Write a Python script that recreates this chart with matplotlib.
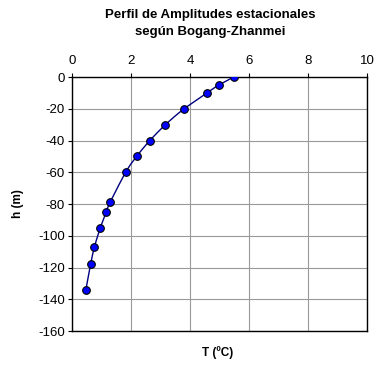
import numpy as np
import matplotlib.pyplot as plt

plt.rcParams['font.family'] = ['Liberation Sans', 'DejaVu Sans']
plt.rcParams['axes.unicode_minus'] = False

# amplitud estacional (ºC) frente a profundidad (m)
temp = [5.48, 4.98, 4.58, 3.80, 3.17, 2.64, 2.19, 1.82, 1.29, 1.16, 0.96, 0.76, 0.63, 0.47]
depth = [0, -5, -10, -20, -30, -40, -50, -60, -79, -85, -95, -107, -118, -134]
xticks = [0, 2, 4, 6, 8, 10]
yticks = [0, -20, -40, -60, -80, -100, -120, -140, -160]


def smooth(xs, ys, n=20):
    # Catmull-Rom through the points, like a smoothed spreadsheet line
    p = np.column_stack([xs, ys]).astype(float)
    p = np.vstack([2 * p[0] - p[1], p, 2 * p[-1] - p[-2]])
    out = []
    t = np.linspace(0, 1, n)[:, None]
    for i in range(1, len(p) - 2):
        p0, p1, p2, p3 = p[i - 1], p[i], p[i + 1], p[i + 2]
        seg = 0.5 * ((2 * p1) + (-p0 + p2) * t + (2 * p0 - 5 * p1 + 4 * p2 - p3) * t ** 2
                     + (-p0 + 3 * p1 - 3 * p2 + p3) * t ** 3)
        out.append(seg)
    out = np.vstack(out)
    return out[:, 0], out[:, 1]


fig = plt.figure(figsize=(3.81, 3.65), dpi=100)
ax = fig.add_axes([0.189, 0.093, 0.774, 0.696])

sx, sy = smooth(temp, depth)
ax.plot(sx, sy, color='#000080', lw=1.0, zorder=3)
ax.plot(temp, depth, ls='none', marker='o', ms=5.5, mfc='#0000ff', mec='black', mew=0.8, zorder=4)

ax.set_xlim(0, 10)
ax.set_ylim(-160, 0)
ax.set_xticks(xticks)
ax.set_yticks(yticks)
ax.xaxis.tick_top()
ax.tick_params(labelsize=9.5, length=3, width=0.8, pad=2)
ax.tick_params(axis='x', pad=4)
ax.grid(True, color='#999999', lw=0.8)
ax.set_axisbelow(True)
for s in ax.spines.values():
    s.set_color('black')
    s.set_linewidth(1.0)

ax.set_ylabel('h (m)', fontsize=8.5, fontweight='bold', labelpad=10)
fig.text(0.572, 0.035, 'T (ºC)', fontsize=8.5, fontweight='bold', ha='center', va='center')
fig.text(0.551, 0.958, 'Perfil de Amplitudes estacionales', fontsize=9.5, fontweight='bold',
         ha='center', va='center')
fig.text(0.551, 0.912, 'según Bogang-Zhanmei', fontsize=9.5, fontweight='bold',
         ha='center', va='center')

fig.savefig('out.png', dpi=100)
